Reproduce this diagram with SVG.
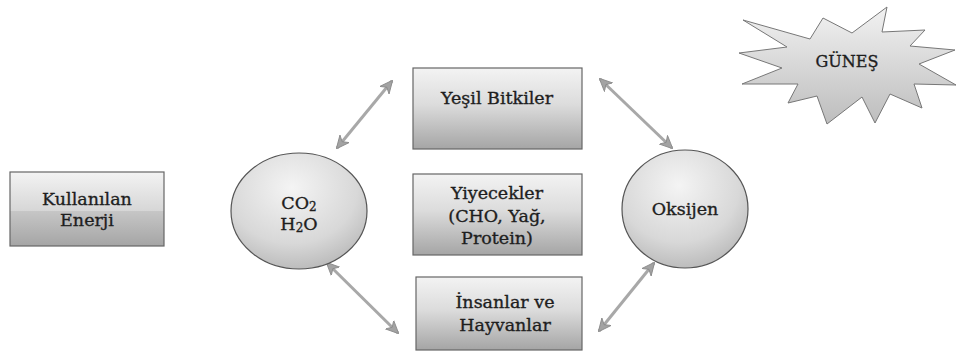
<svg xmlns="http://www.w3.org/2000/svg" width="958" height="356" viewBox="0 0 958 356">
<defs>
<linearGradient id="boxg" x1="0" y1="0" x2="0" y2="1">
<stop offset="0" stop-color="#f3f3f3"/>
<stop offset="0.45" stop-color="#dcdcdc"/>
<stop offset="1" stop-color="#a5a5a5"/>
</linearGradient>
<linearGradient id="boxk" x1="0" y1="0" x2="0" y2="1">
<stop offset="0" stop-color="#f3f3f3"/>
<stop offset="0.53" stop-color="#d6d6d6"/>
<stop offset="0.53" stop-color="#c6c6c6"/>
<stop offset="1" stop-color="#a5a5a5"/>
</linearGradient>
<radialGradient id="ellg" cx="0.45" cy="0.3" r="0.8">
<stop offset="0" stop-color="#f4f4f4"/>
<stop offset="0.6" stop-color="#d8d8d8"/>
<stop offset="1" stop-color="#b0b0b0"/>
</radialGradient>
<linearGradient id="starg" x1="0" y1="0" x2="0" y2="1">
<stop offset="0" stop-color="#f2f2f2"/>
<stop offset="1" stop-color="#bdbdbd"/>
</linearGradient>
<marker id="ah" viewBox="0 0 12 12" refX="11" refY="6" markerWidth="13" markerHeight="13" markerUnits="userSpaceOnUse" orient="auto-start-reverse">
<path d="M0,0.5 L12,6 L0,11.5 L3.5,6 z" fill="#a3a3a3" stroke="#8a8a8a" stroke-width="0.8"/>
</marker>
</defs>
<style>
.box{stroke:#666;stroke-width:1.2}
.ell{fill:url(#ellg);stroke:#555;stroke-width:1.2}
.t{font-family:"DejaVu Serif","Liberation Serif",serif;font-size:17.5px;fill:#1e1e1e;stroke:#1e1e1e;stroke-width:0.35;text-anchor:middle}
.sub{font-size:12px}
.conn{stroke:#a8a8a8;stroke-width:3;fill:none;marker-start:url(#ah);marker-end:url(#ah)}
</style>
<rect width="958" height="356" fill="#ffffff"/>
<g id="connectors">
<line class="conn" x1="337" y1="148" x2="392" y2="81"/>
<line class="conn" x1="600" y1="79" x2="672" y2="148"/>
<line class="conn" x1="327" y1="263" x2="398" y2="333"/>
<line class="conn" x1="599" y1="331" x2="654" y2="263"/>
</g>
<g id="kullanilan-enerji">
<rect class="box" x="10" y="172" width="154" height="74" fill="url(#boxk)"/>
<text class="t" x="87" y="205">Kullanılan</text>
<text class="t" x="87" y="226">Enerji</text>
</g>
<g id="co2-h2o">
<ellipse class="ell" cx="299" cy="211" rx="68" ry="58"/>
<text class="t" x="299" y="209">CO<tspan class="sub" dy="2">2</tspan></text>
<text class="t" x="299" y="230">H<tspan class="sub" dy="2">2</tspan><tspan dy="-2">O</tspan></text>
</g>
<g id="yesil-bitkiler">
<rect class="box" x="413" y="68" width="169" height="81" fill="url(#boxg)"/>
<text class="t" x="497" y="104">Yeşil Bitkiler</text>
</g>
<g id="yiyecekler">
<rect class="box" x="413" y="174" width="169" height="81" fill="url(#boxg)"/>
<text class="t" x="497" y="199">Yiyecekler</text>
<text class="t" x="497" y="222">(CHO, Yağ,</text>
<text class="t" x="497" y="244">Protein)</text>
</g>
<g id="insanlar-hayvanlar">
<rect class="box" x="416" y="277" width="166" height="73" fill="url(#boxg)"/>
<text class="t" x="505" y="308">İnsanlar ve</text>
<text class="t" x="505" y="331">Hayvanlar</text>
</g>
<g id="oksijen">
<ellipse class="ell" cx="685" cy="209" rx="63" ry="59"/>
<text class="t" x="685" y="215">Oksijen</text>
</g>
<g id="gunes">
<polygon points="743,20 810,39 823,18 852,33 887,7 882,32 925,30 910,46 955,50 919,64 956,85 914,84 922,108 890,94 875,123 862,97 827,124 817,96 788,103 798,84 742,84 782,68 739,53 787,47" fill="url(#starg)" stroke="#777" stroke-width="1"/>
<text class="t" x="847" y="67" style="font-size:16px">GÜNEŞ</text>
</g>
</svg>
